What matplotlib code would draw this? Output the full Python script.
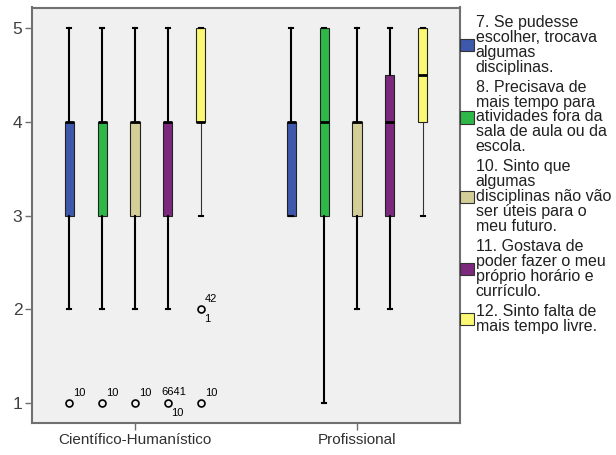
import matplotlib
matplotlib.use("Agg")
import matplotlib.pyplot as plt
from matplotlib.patches import Patch

plt.rcParams['font.family'] = ['Liberation Sans', 'DejaVu Sans']

# ---------------- data ----------------
groups = ["Científico-Humanístico", "Profissional"]
series = [
    "7. Se pudesse\nescolher, trocava\nalgumas\ndisciplinas.",
    "8. Precisava de\nmais tempo para\natividades fora da\nsala de aula ou da\nescola.",
    "10. Sinto que\nalgumas\ndisciplinas não vão\nser úteis para o\nmeu futuro.",
    "11. Gostava de\npoder fazer o meu\npróprio horário e\ncurrículo.",
    "12. Sinto falta de\nmais tempo livre.",
]
colors = ["#3E58AC", "#2EB848", "#D3CE97", "#7C287D", "#FBF873"]

# per series: [Científico-Humanístico, Profissional]
q1 = [[3, 3], [3, 3], [3, 3], [3, 3], [4, 4]]
med = [[4, 4], [4, 4], [4, 4], [4, 4], [4, 4.5]]
q3 = [[4, 4], [4, 5], [4, 4], [4, 4.5], [5, 5]]
whislo = [[2, 3], [2, 1], [2, 2], [2, 2], [3, 3]]
whishi = [[5, 5], [5, 5], [5, 5], [5, 5], [5, 5]]
fliers = [[[1], []], [[1], []], [[1], []], [[1], []], [[2, 1], []]]

# outlier case labels: (series, group, value, label, placement)
outlier_labels = [
    (0, 0, 1, "10", "above"),
    (1, 0, 1, "10", "above"),
    (2, 0, 1, "10", "above"),
    (3, 0, 1, "6641", "aboveleft"),
    (3, 0, 1, "10", "below"),
    (4, 0, 2, "42", "above"),
    (4, 0, 2, "1", "below"),
    (4, 0, 1, "10", "above"),
]

yticks = [1, 2, 3, 4, 5]

# ---------------- figure ----------------
fig = plt.figure(figsize=(6.16, 4.55), dpi=100)
ax = fig.add_axes([32 / 616, 32 / 455, 428 / 616, 415.5 / 455])
ax.set_facecolor("#F0F0F0")

step = 0.148
width = 0.041
n = len(series)

def xpos(s, g):
    return g + (s - (n - 1) / 2) * step

for s in range(n):
    stats = []
    pos = []
    for g in range(len(groups)):
        stats.append(dict(q1=q1[s][g], med=med[s][g], q3=q3[s][g],
                          whislo=whislo[s][g], whishi=whishi[s][g],
                          fliers=fliers[s][g]))
        pos.append(xpos(s, g))
    wlw = 0.8 if s == 4 else 1.5
    wcol = "#333333" if s == 4 else "black"
    ax.bxp(stats, positions=pos, widths=width, capwidths=0.018,
           patch_artist=True, manage_ticks=False,
           boxprops=dict(facecolor=colors[s], edgecolor="#222222", linewidth=0.8),
           medianprops=dict(color="black", linewidth=2.0, solid_capstyle="butt"),
           whiskerprops=dict(color=wcol, linewidth=wlw),
           capprops=dict(color="black", linewidth=1.5),
           flierprops=dict(marker="o", markersize=5, markerfacecolor="none",
                           markeredgecolor="black", markeredgewidth=1.2))

offsets = {"above": (4, 10, "left"), "below": (3, -10, "left"),
           "aboveleft": (-6, 11, "left")}
for s, g, v, lab, where in outlier_labels:
    dx, dy, ha = offsets[where]
    ax.annotate(lab, (xpos(s, g), v), xytext=(dx, dy), textcoords="offset pixels",
                ha=ha, va="center", fontsize=8, color="black")

ax.set_xlim(-0.464, 1.464)
ax.set_ylim(0.787, 5.219)
ax.set_yticks(yticks)
ax.set_yticklabels([str(t) for t in yticks])
ax.set_xticks(range(len(groups)))
ax.set_xticklabels(groups)
ax.tick_params(axis="y", direction="out", length=5, width=1, color="#707070",
               labelsize=12.5, labelcolor="#404040", pad=2)
ax.tick_params(axis="x", direction="out", length=5, width=1, color="#707070",
               labelsize=11, labelcolor="#303030", pad=2)
for sp in ax.spines.values():
    sp.set_color("#707070")
    sp.set_linewidth(1.5)

handles = [Patch(facecolor=c, edgecolor="#333333", linewidth=0.8) for c in colors]
leg = ax.legend(handles, series, loc="upper left", bbox_to_anchor=(1.0, 0.982),
                frameon=False, fontsize=11.5, borderpad=0, borderaxespad=0,
                handlelength=0.875, handleheight=0.8, handletextpad=0.1,
                labelspacing=0.32)
for t in leg.get_texts():
    t.set_linespacing(0.99)
    t.set_color("#202020")

fig.savefig("out.png", dpi=100)
